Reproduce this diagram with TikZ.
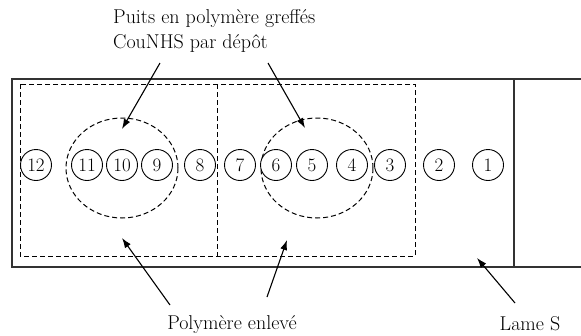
\documentclass[tikz,border=0pt]{standalone}
\usetikzlibrary{shapes,arrows,arrows.meta,positioning,calc}

\begin{document}
\begin{tikzpicture}[x=1pt, y=-1pt, >={Latex[length=10pt,width=7pt]}, font=\fontsize{20}{25}\selectfont]
  % Styles
  \tikzstyle{well} = [draw, circle, minimum size=31pt, inner sep=0pt, line width=0.9pt, font=\fontsize{19}{19}\selectfont]
  \tikzstyle{zone} = [draw, dash pattern=on 5pt off 3pt, line width=1pt]
  \tikzstyle{slide} = [draw, line width=1.3pt, black!80]
  \tikzstyle{txt} = [inner sep=0pt, align=left]
  \tikzstyle{pointer} = [->, line width=1.1pt]

  \useasboundingbox (0,0) rectangle (581,335);

  % Slide
  \draw [slide] (581,79) -- (12,79) -- (12,267) -- (581,267);
  \draw [slide] (514,79) -- (514,267);

  % Removed polymer zones
  \draw [zone] (20,84) rectangle (415,256);
  \draw [zone] (217,84) -- (217,256);

  % Grafted wells
  \draw [zone] (122,168) ellipse [x radius=56pt, y radius=50pt];
  \draw [zone] (317,168) ellipse [x radius=56pt, y radius=50pt];

  % Wells
  \foreach \n/\x in {1/488, 2/439, 3/390, 4/352, 5/312, 6/276, 7/240, 8/200, 9/157, 10/122, 11/87, 12/36}
    \node [well, fill=white] (w\n) at (\x,165) {\n};

  % Labels
  \node [txt, anchor=north west] (puits) at (113,9) {Puits en polymère greffés\\CouNHS par dépôt};
  \node [txt, anchor=base] (enleve) at (232,329) {Polymère enlevé};
  \node [txt, anchor=base] (lame) at (530,330) {Lame S};

  % Arrows
  \coordinate (p1) at (160,63);
  \coordinate (p2) at (268,63);
  \coordinate (e1) at (170,305);
  \coordinate (e2) at (267,297);
  \coordinate (l1) at (515,303);
  \coordinate (t1) at (122,129);
  \coordinate (t2) at (305,128);
  \coordinate (t3) at (122,238);
  \coordinate (t4) at (287,240);
  \coordinate (t5) at (477,258);
  \draw [pointer] (p1) -- (t1);
  \draw [pointer] (p2) -- (t2);
  \draw [pointer] (e1) -- (t3);
  \draw [pointer] (e2) -- (t4);
  \draw [pointer] (l1) -- (t5);

\end{tikzpicture}
\end{document}
